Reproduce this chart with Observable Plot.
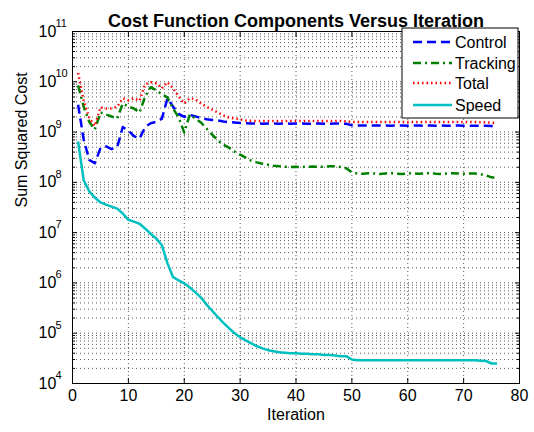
<!DOCTYPE html>
<html><head><meta charset="utf-8">
<script src="https://cdn.jsdelivr.net/npm/d3@7"></script>
<script src="https://cdn.jsdelivr.net/npm/@observablehq/plot@0.6"></script>
<style>
body{margin:0;background:#fff;}
#chart{position:relative;width:534px;height:432px;}
svg{font-family:"Liberation Sans",Arial,sans-serif;}
</style>
</head><body><div id="chart"></div>
<script>
const titleText = "Cost Function Components Versus Iteration";
const xLabel = "Iteration";
const yLabel = "Sum Squared Cost";
const seriesNames = ["Control", "Tracking", "Total", "Speed"];
const seriesColors = ["#0000ff", "#008000", "#ff0000", "#00bfbf"];
const seriesDash = ["9,5", "8,4,2,4", "1.5,3", null];
const xTicks = [0, 10, 20, 30, 40, 50, 60, 70, 80];
const yDecades = [1e4, 1e5, 1e6, 1e7, 1e8, 1e9, 1e10, 1e11];
const yExponents = ["4", "5", "6", "7", "8", "9", "10", "11"];

const iterations = [1,2,3,4,5,6,7,8,9,10,11,12,13,14,15,16,17,18,19,20,21,22,23,24,25,26,27,28,29,30,31,32,33,34,35,36,37,38,39,40,41,42,43,44,45,46,47,48,49,50,51,52,53,54,55,56,57,58,59,60,61,62,63,64,65,66,67,68,69,70,71,72,73,74,75,76];

const control = [3.5e9,7.1e8,2.8e8,2.4e8,4.8e8,5.2e8,4.6e8,5.0e8,1.26e9,1.07e9,
  8.3e8,7.4e8,1.26e9,1.5e9,1.6e9,1.85e9,4.7e9,3.2e9,2.3e9,2.0e9,
  2.2e9,2.05e9,1.9e9,1.8e9,1.74e9,1.7e9,1.62e9,1.58e9,1.55e9,1.51e9,
  1.49e9,1.48e9,1.48e9,1.47e9,1.48e9,1.48e9,1.47e9,1.48e9,1.47e9,1.48e9,
  1.48e9,1.47e9,1.47e9,1.48e9,1.47e9,1.47e9,1.48e9,1.47e9,1.46e9,1.36e9,
  1.35e9,1.35e9,1.36e9,1.35e9,1.35e9,1.35e9,1.34e9,1.35e9,1.35e9,1.34e9,
  1.35e9,1.35e9,1.34e9,1.35e9,1.34e9,1.35e9,1.34e9,1.34e9,1.35e9,1.34e9,
  1.34e9,1.34e9,1.33e9,1.33e9,1.32e9,1.26e9];

const tracking = [8.5e9,3.2e9,1.6e9,1.12e9,2.45e9,2.24e9,2.04e9,1.86e9,3.7e9,3.2e9,
  2.95e9,2.45e9,5.1e9,7.8e9,6.8e9,5.6e9,4.9e9,2.95e9,1.95e9,9.8e8,
  2.24e9,1.86e9,1.55e9,1.17e9,8.9e8,6.8e8,5.6e8,4.9e8,4.1e8,3.55e8,
  3.1e8,2.7e8,2.5e8,2.35e8,2.24e8,2.14e8,2.1e8,2.05e8,2.03e8,2.04e8,
  2.02e8,2.05e8,2.06e8,2.03e8,2.04e8,2.08e8,2.1e8,2.02e8,1.9e8,1.58e8,
  1.5e8,1.48e8,1.52e8,1.5e8,1.47e8,1.5e8,1.53e8,1.49e8,1.47e8,1.5e8,
  1.52e8,1.48e8,1.5e8,1.53e8,1.49e8,1.47e8,1.5e8,1.52e8,1.5e8,1.48e8,
  1.5e8,1.5e8,1.45e8,1.38e8,1.26e8,1.2e8];

const total = [1.5e10,4.2e9,1.9e9,1.32e9,3.1e9,2.95e9,2.95e9,3.2e9,4.7e9,4.3e9,
  4.7e9,4.2e9,8.9e9,9.8e9,9.3e9,7.4e9,9.8e9,7.4e9,5.1e9,3.7e9,
  4.7e9,4.5e9,3.7e9,3.2e9,2.8e9,2.45e9,2.15e9,1.95e9,1.86e9,1.78e9,
  1.7e9,1.67e9,1.66e9,1.66e9,1.66e9,1.66e9,1.66e9,1.66e9,1.66e9,1.66e9,
  1.66e9,1.66e9,1.66e9,1.66e9,1.66e9,1.66e9,1.66e9,1.66e9,1.64e9,1.59e9,
  1.58e9,1.58e9,1.58e9,1.58e9,1.58e9,1.58e9,1.58e9,1.58e9,1.58e9,1.58e9,
  1.58e9,1.58e9,1.58e9,1.58e9,1.58e9,1.58e9,1.58e9,1.58e9,1.58e9,1.58e9,
  1.58e9,1.58e9,1.57e9,1.56e9,1.54e9,1.48e9];

const speed = [6.5e8,1.1e8,6.6e7,5.0e7,4.0e7,3.6e7,3.3e7,3.0e7,2.4e7,1.8e7,
  1.66e7,1.5e7,1.2e7,9.5e6,7.6e6,5.6e6,2.45e6,1.3e6,1.12e6,9.8e5,
  8.1e5,6.5e5,5.1e5,3.7e5,2.8e5,2.1e5,1.6e5,1.26e5,1.0e5,8.3e4,
  7.2e4,6.3e4,5.5e4,5.0e4,4.6e4,4.4e4,4.2e4,4.1e4,4.0e4,4.0e4,
  3.9e4,3.9e4,3.8e4,3.8e4,3.7e4,3.7e4,3.6e4,3.5e4,3.5e4,3.0e4,
  2.9e4,2.9e4,2.9e4,2.9e4,2.9e4,2.9e4,2.9e4,2.9e4,2.9e4,2.9e4,
  2.9e4,2.9e4,2.9e4,2.9e4,2.9e4,2.9e4,2.9e4,2.9e4,2.9e4,2.9e4,
  2.9e4,2.9e4,2.85e4,2.8e4,2.5e4,2.5e4];

const seriesValues = [control, tracking, total, speed];
const rows = seriesNames.map((name, s) => iterations.map((it, i) => ({iteration: it, value: seriesValues[s][i], series: name})));

const yMinor = yDecades.slice(0, -1).flatMap(d => [2,3,4,5,6,7,8,9].map(m => m * d));
const gridStyle = {stroke: "#000", strokeOpacity: 0.65, strokeDasharray: "1,3", strokeWidth: 1};

const lineMarks = seriesNames.map((name, s) => Plot.line(rows[s], {
  x: "iteration", y: "value", stroke: seriesColors[s], strokeWidth: 2.5,
  strokeDasharray: seriesDash[s], strokeLinejoin: "round", strokeLinecap: "butt"
}));

const chart = Plot.plot({
  width: 534, height: 432,
  marginLeft: 72, marginRight: 15, marginTop: 31, marginBottom: 49,
  x: {domain: [0, 80], label: null},
  y: {type: "log", domain: [1e4, 1e11], label: null},
  style: {fontFamily: "'Liberation Sans', Arial, sans-serif", fontSize: "16px", color: "#000", background: "#fff"},
  marks: [
    Plot.ruleY(yMinor, gridStyle),
    Plot.ruleY(yDecades.slice(1, -1), gridStyle),
    Plot.ruleX(xTicks.slice(1, -1), gridStyle),
    Plot.axisY({anchor: "left", ticks: yDecades, tickSize: -5, tickFormat: () => "", label: null}),
    Plot.axisY({anchor: "left", ticks: yMinor, tickSize: -3, tickFormat: () => "", label: null}),
    Plot.axisY({anchor: "right", ticks: yDecades, tickSize: -5, tickFormat: () => "", label: null}),
    Plot.axisY({anchor: "right", ticks: yMinor, tickSize: -3, tickFormat: () => "", label: null}),
    Plot.axisX({anchor: "bottom", ticks: xTicks, tickSize: -5, tickFormat: () => "", label: null}),
    Plot.axisX({anchor: "top", ticks: xTicks, tickSize: -5, tickFormat: () => "", label: null}),
    Plot.axisX({anchor: "bottom", ticks: xTicks, tickSize: 0, tickPadding: 6, fontSize: 16, label: null}),
    Plot.text(yDecades, {y: d => d, text: () => "10", frameAnchor: "left", dx: -34, textAnchor: "start", fontSize: 16}),
    Plot.text(yDecades, {y: d => d, text: (d, i) => yExponents[i], frameAnchor: "left", dx: -17, dy: -8, textAnchor: "start", fontSize: 11}),
    ...lineMarks,
    Plot.frame({stroke: "#000"}),
    Plot.text([yLabel], {frameAnchor: "left", dx: -51, rotate: -90, fontSize: 16}),
    Plot.text([xLabel], {frameAnchor: "bottom", dy: 36, fontSize: 16}),
    Plot.text([titleText], {frameAnchor: "top", dy: -17, fontSize: 18, fontWeight: "bold"})
  ]
});
document.getElementById("chart").appendChild(chart);

// Legend (inside the plot area, top right)
const svg = d3.select(chart);
const lg = svg.append("g").attr("transform", "translate(402,28)");
lg.append("rect").attr("width", 116).attr("height", 90).attr("fill", "#fff").attr("stroke", "#000").attr("stroke-width", 1);
const rowY = [14, 35, 55, 77];
seriesNames.forEach((name, s) => {
  lg.append("line").attr("x1", 11).attr("x2", 50).attr("y1", rowY[s]).attr("y2", rowY[s])
    .attr("stroke", seriesColors[s]).attr("stroke-width", 2.5)
    .attr("stroke-dasharray", seriesDash[s]);
  lg.append("text").attr("x", 53).attr("y", rowY[s]).attr("dy", "0.35em")
    .attr("text-anchor", "start")
    .attr("font-size", 16).attr("fill", "#000").text(name);
});
</script>
</body></html>
